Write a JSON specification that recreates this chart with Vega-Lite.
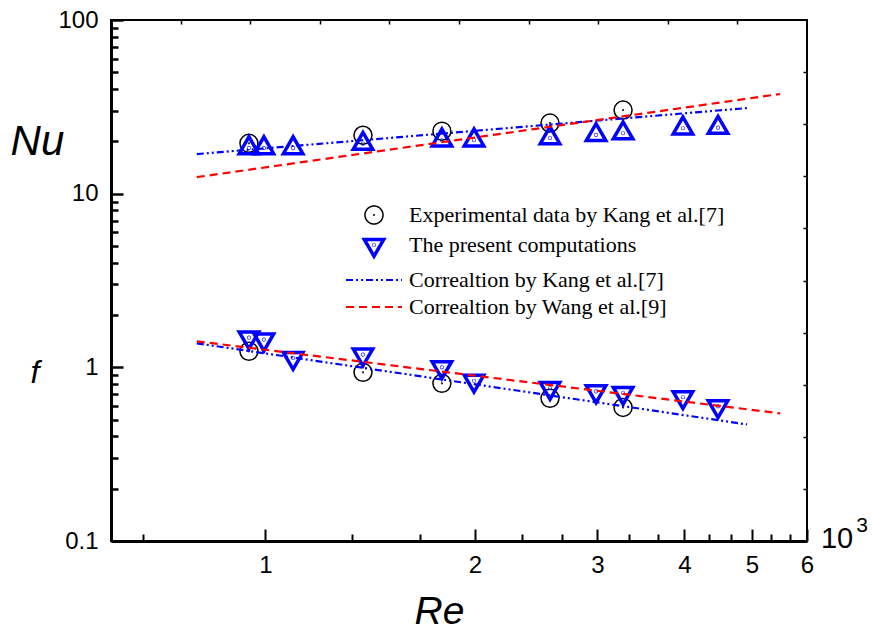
{
  "$schema": "https://vega.github.io/schema/vega-lite/v6.json",
  "width": 696,
  "height": 521,
  "autosize": {"type": "none"},
  "padding": {"left": 111, "top": 20, "right": 65, "bottom": 90},
  "background": "white",
  "config": {
    "view": {"stroke": "black", "strokeWidth": 2},
    "axis": {"grid": false, "domainColor": "black", "tickColor": "black", "labelColor": "black", "labelFont": "Liberation Sans", "labelFontSize": 24, "titleColor": "black"}
  },
  "layer": [
    {
      "data": {
        "values": [
          {"re": 0.947, "val": 19.5, "series": "Experimental data by Kang et al.[7]", "qty": "Nu"},
          {"re": 1.381, "val": 21.7, "series": "Experimental data by Kang et al.[7]", "qty": "Nu"},
          {"re": 1.793, "val": 22.9, "series": "Experimental data by Kang et al.[7]", "qty": "Nu"},
          {"re": 2.564, "val": 25.5, "series": "Experimental data by Kang et al.[7]", "qty": "Nu"},
          {"re": 3.265, "val": 30.3, "series": "Experimental data by Kang et al.[7]", "qty": "Nu"},
          {"re": 0.947, "val": 1.236, "series": "Experimental data by Kang et al.[7]", "qty": "f"},
          {"re": 1.381, "val": 0.936, "series": "Experimental data by Kang et al.[7]", "qty": "f"},
          {"re": 1.793, "val": 0.809, "series": "Experimental data by Kang et al.[7]", "qty": "f"},
          {"re": 2.564, "val": 0.663, "series": "Experimental data by Kang et al.[7]", "qty": "f"},
          {"re": 3.265, "val": 0.588, "series": "Experimental data by Kang et al.[7]", "qty": "f"},
          {"re": 0.947, "val": 18.3, "series": "The present computations", "qty": "Nu"},
          {"re": 0.995, "val": 18.3, "series": "The present computations", "qty": "Nu"},
          {"re": 1.096, "val": 18.3, "series": "The present computations", "qty": "Nu"},
          {"re": 1.381, "val": 19.4, "series": "The present computations", "qty": "Nu"},
          {"re": 1.793, "val": 20.3, "series": "The present computations", "qty": "Nu"},
          {"re": 1.994, "val": 20.3, "series": "The present computations", "qty": "Nu"},
          {"re": 2.564, "val": 20.9, "series": "The present computations", "qty": "Nu"},
          {"re": 2.986, "val": 21.8, "series": "The present computations", "qty": "Nu"},
          {"re": 3.265, "val": 22.3, "series": "The present computations", "qty": "Nu"},
          {"re": 3.98, "val": 23.8, "series": "The present computations", "qty": "Nu"},
          {"re": 4.47, "val": 24.0, "series": "The present computations", "qty": "Nu"},
          {"re": 0.947, "val": 1.483, "series": "The present computations", "qty": "f"},
          {"re": 0.995, "val": 1.444, "series": "The present computations", "qty": "f"},
          {"re": 1.096, "val": 1.131, "series": "The present computations", "qty": "f"},
          {"re": 1.381, "val": 1.184, "series": "The present computations", "qty": "f"},
          {"re": 1.793, "val": 1.0, "series": "The present computations", "qty": "f"},
          {"re": 1.994, "val": 0.837, "series": "The present computations", "qty": "f"},
          {"re": 2.564, "val": 0.76, "series": "The present computations", "qty": "f"},
          {"re": 2.986, "val": 0.727, "series": "The present computations", "qty": "f"},
          {"re": 3.265, "val": 0.711, "series": "The present computations", "qty": "f"},
          {"re": 3.98, "val": 0.672, "series": "The present computations", "qty": "f"},
          {"re": 4.47, "val": 0.596, "series": "The present computations", "qty": "f"},
          {"re": 0.797, "val": 16.9, "series": "Correaltion by Kang et al.[7]", "qty": "Nu"},
          {"re": 4.92, "val": 31.1, "series": "Correaltion by Kang et al.[7]", "qty": "Nu"},
          {"re": 0.797, "val": 12.45, "series": "Correaltion by Wang et al.[9]", "qty": "Nu"},
          {"re": 5.49, "val": 37.5, "series": "Correaltion by Wang et al.[9]", "qty": "Nu"},
          {"re": 0.797, "val": 1.375, "series": "Correaltion by Kang et al.[7]", "qty": "f"},
          {"re": 4.92, "val": 0.469, "series": "Correaltion by Kang et al.[7]", "qty": "f"},
          {"re": 0.797, "val": 1.412, "series": "Correaltion by Wang et al.[9]", "qty": "f"},
          {"re": 5.49, "val": 0.543, "series": "Correaltion by Wang et al.[9]", "qty": "f"}
        ]
      },
      "layer": [
        {
          "transform": [{"filter": "datum.series === 'Experimental data by Kang et al.[7]'"}],
          "mark": {"type": "point", "filled": false, "strokeWidth": 1.5, "size": 324, "opacity": 1},
          "encoding": {
            "x": {
              "field": "re", "type": "quantitative",
              "scale": {"type": "log", "domain": [0.6, 6], "nice": false},
              "axis": {
                "orient": "bottom",
                "values": [0.6666667, 1, 1.3333333, 1.6666667, 2, 2.3333333, 2.6666667, 3, 3.3333333, 3.6666667, 4, 4.3333333, 4.6666667, 5, 5.3333333, 5.6666667, 6],
                "format": "~g",
                "labelExpr": "datum.value === round(datum.value) ? datum.label : ''",
                "tickSize": {"condition": {"test": "datum.value === round(datum.value)", "value": -12}, "value": -7},
                "tickWidth": 2, "domainWidth": 3, "labelPadding": 24, "labelOverlap": false, "labelFlush": false,
                "title": "Re", "titleFont": "Liberation Sans", "titleFontStyle": "italic", "titleFontWeight": "normal", "titleFontSize": 39,
                "titleX": 328, "titleY": 82, "titleBaseline": "alphabetic", "titleAlign": "center"
              }
            },
            "y": {
              "field": "val", "type": "quantitative",
              "scale": {"type": "log", "domain": [0.1, 100], "nice": false},
              "axis": {
                "orient": "left",
                "values": [0.1, 0.2, 0.3, 0.4, 0.5, 0.6, 0.7, 0.8, 0.9, 1, 2, 3, 4, 5, 6, 7, 8, 9, 10, 20, 30, 40, 50, 60, 70, 80, 90, 100],
                "format": "~g",
                "labelExpr": "indexof([0.1, 1, 10, 100], datum.value) >= 0 ? datum.label : ''",
                "tickSize": {"condition": {"test": "indexof([0.1, 1, 10, 100], datum.value) >= 0", "value": -12}, "value": -7},
                "tickWidth": 2.5, "domainWidth": 3, "labelPadding": 25, "labelOverlap": false, "labelFlush": false,
                "title": null
              }
            },
            "color": {"field": "series", "type": "nominal",
              "scale": {"domain": ["Experimental data by Kang et al.[7]", "The present computations", "Correaltion by Kang et al.[7]", "Correaltion by Wang et al.[9]"], "range": ["#000000", "#0000ff", "#0000ff", "#ff0000"]},
              "legend": {"orient": "none", "legendX": 252, "legendY": 184, "title": null, "labelFont": "Liberation Serif", "labelFontSize": 22, "labelColor": "black", "labelOffset": 24, "rowPadding": 5, "symbolSize": 324, "padding": 0, "labelLimit": 0,
                "encode": {"symbols": {"update": {
                  "size": {"signal": "datum.value === 'Correaltion by Kang et al.[7]' || datum.value === 'Correaltion by Wang et al.[9]' ? 3136 : (datum.value === 'The present computations' ? 380 : 324)"},
                  "strokeWidth": {"signal": "datum.value === 'The present computations' ? 3.5 : (datum.value === 'Experimental data by Kang et al.[7]' ? 1.5 : 2)"},
                  "fill": {"value": "transparent"}
                }}}}
            },
            "shape": {"field": "series", "type": "nominal",
              "scale": {"domain": ["Experimental data by Kang et al.[7]", "The present computations", "Correaltion by Kang et al.[7]", "Correaltion by Wang et al.[9]"],
                "range": ["M-1,0A1,1,0,1,0,1,0A1,1,0,1,0,-1,0ZM-0.04,0A0.04,0.04,0,1,0,0.04,0A0.04,0.04,0,1,0,-0.04,0Z", "M-1,-0.577L1,-0.577L0,1.155ZM-0.03,0A0.03,0.03,0,1,0,0.03,0A0.03,0.03,0,1,0,-0.03,0Z", "stroke", "stroke"]},
              "legend": {"orient": "none", "legendX": 252, "legendY": 184, "title": null, "labelFont": "Liberation Serif", "labelFontSize": 22, "labelColor": "black", "labelOffset": 24, "rowPadding": 5, "symbolSize": 324, "padding": 0, "labelLimit": 0,
                "encode": {"symbols": {"update": {
                  "size": {"signal": "datum.value === 'Correaltion by Kang et al.[7]' || datum.value === 'Correaltion by Wang et al.[9]' ? 3136 : (datum.value === 'The present computations' ? 380 : 324)"},
                  "strokeWidth": {"signal": "datum.value === 'The present computations' ? 3.5 : (datum.value === 'Experimental data by Kang et al.[7]' ? 1.5 : 2)"},
                  "fill": {"value": "transparent"}
                }}}}
            }
          }
        },
        {
          "transform": [{"filter": "datum.series === 'The present computations' && datum.qty === 'f'"}],
          "mark": {"type": "point", "filled": false, "strokeWidth": 3.5, "size": 380, "opacity": 1},
          "encoding": {
            "x": {"field": "re", "type": "quantitative", "scale": {"type": "log", "domain": [0.6, 6], "nice": false}},
            "y": {"field": "val", "type": "quantitative", "scale": {"type": "log", "domain": [0.1, 100], "nice": false}},
            "color": {"field": "series", "type": "nominal"},
            "shape": {"field": "series", "type": "nominal"}
          }
        },
        {
          "transform": [{"filter": "datum.series === 'The present computations' && datum.qty === 'Nu'"}],
          "mark": {"type": "point", "filled": false, "strokeWidth": 3.5, "size": 380, "opacity": 1,
            "shape": "M-1,0.577L1,0.577L0,-1.155ZM-0.03,0A0.03,0.03,0,1,0,0.03,0A0.03,0.03,0,1,0,-0.03,0Z"},
          "encoding": {
            "x": {"field": "re", "type": "quantitative", "scale": {"type": "log", "domain": [0.6, 6], "nice": false}},
            "y": {"field": "val", "type": "quantitative", "scale": {"type": "log", "domain": [0.1, 100], "nice": false}},
            "color": {"field": "series", "type": "nominal"}
          }
        },
        {
          "transform": [{"filter": "datum.series === 'Correaltion by Kang et al.[7]' || datum.series === 'Correaltion by Wang et al.[9]'"}],
          "mark": {"type": "line", "strokeWidth": 2.2},
          "encoding": {
            "x": {"field": "re", "type": "quantitative", "scale": {"type": "log", "domain": [0.6, 6], "nice": false}},
            "y": {"field": "val", "type": "quantitative", "scale": {"type": "log", "domain": [0.1, 100], "nice": false}},
            "color": {"field": "series", "type": "nominal"},
            "detail": {"field": "qty", "type": "nominal"},
            "strokeDash": {"field": "series", "type": "nominal",
              "scale": {"domain": ["Experimental data by Kang et al.[7]", "The present computations", "Correaltion by Kang et al.[7]", "Correaltion by Wang et al.[9]"],
                "range": [[1, 0], [1, 0], [7, 3, 2, 3, 2, 3], [8, 5]]},
              "legend": {"orient": "none", "legendX": 252, "legendY": 184, "title": null, "labelFont": "Liberation Serif", "labelFontSize": 22, "labelColor": "black", "labelOffset": 24, "rowPadding": 5, "symbolSize": 324, "padding": 0, "labelLimit": 0,
                "encode": {"symbols": {"update": {
                  "size": {"signal": "datum.value === 'Correaltion by Kang et al.[7]' || datum.value === 'Correaltion by Wang et al.[9]' ? 3136 : (datum.value === 'The present computations' ? 380 : 324)"},
                  "strokeWidth": {"signal": "datum.value === 'The present computations' ? 3.5 : (datum.value === 'Experimental data by Kang et al.[7]' ? 1.5 : 2)"},
                  "fill": {"value": "transparent"}
                }}}}
            }
          }
        },
        {
          "data": {"values": [{"t": "Nu"}]},
          "mark": {"type": "text", "clip": false, "font": "Liberation Sans", "fontStyle": "italic", "fontSize": 42, "align": "center", "baseline": "alphabetic", "color": "black"},
          "encoding": {"x": {"datum": 0.4704, "type": "quantitative"}, "y": {"datum": 16.67, "type": "quantitative"}, "text": {"field": "t", "type": "nominal"}}
        },
        {
          "data": {"values": [{"t": "f"}]},
          "mark": {"type": "text", "clip": false, "font": "Liberation Sans", "fontStyle": "italic", "fontSize": 32, "align": "center", "baseline": "alphabetic", "color": "black"},
          "encoding": {"x": {"datum": 0.4666, "type": "quantitative"}, "y": {"datum": 0.809, "type": "quantitative"}, "text": {"field": "t", "type": "nominal"}}
        },
        {
          "data": {"values": [{"t": "10"}]},
          "mark": {"type": "text", "clip": false, "font": "Liberation Sans", "fontSize": 29, "align": "left", "baseline": "alphabetic", "color": "black"},
          "encoding": {"x": {"datum": 6.284, "type": "quantitative"}, "y": {"datum": 0.0917, "type": "quantitative"}, "text": {"field": "t", "type": "nominal"}}
        },
        {
          "data": {"values": [{"t": "3"}]},
          "mark": {"type": "text", "clip": false, "font": "Liberation Sans", "fontSize": 21, "align": "left", "baseline": "alphabetic", "color": "black"},
          "encoding": {"x": {"datum": 7.06, "type": "quantitative"}, "y": {"datum": 0.113, "type": "quantitative"}, "text": {"field": "t", "type": "nominal"}}
        }
      ]
    },
    {
      "data": {"values": [{}]},
      "mark": {"type": "point", "opacity": 0},
      "encoding": {
        "x": {"datum": 0, "type": "quantitative", "scale": {"domain": [0, 10], "nice": false, "zero": false},
          "axis": {"orient": "top", "values": [1, 2, 3, 4, 5, 6, 7, 8, 9], "labels": false, "domain": false, "tickSize": -4, "tickWidth": 1.5, "title": null}},
        "y": {"datum": 0, "type": "quantitative", "scale": {"domain": [0, 10], "nice": false, "zero": false},
          "axis": {"orient": "right", "values": [1, 2, 3, 4, 5, 6, 7, 8, 9], "labels": false, "domain": false, "tickSize": -4, "tickWidth": 1.5, "title": null}}
      }
    }
  ],
  "resolve": {"scale": {"x": "independent", "y": "independent"}}
}
